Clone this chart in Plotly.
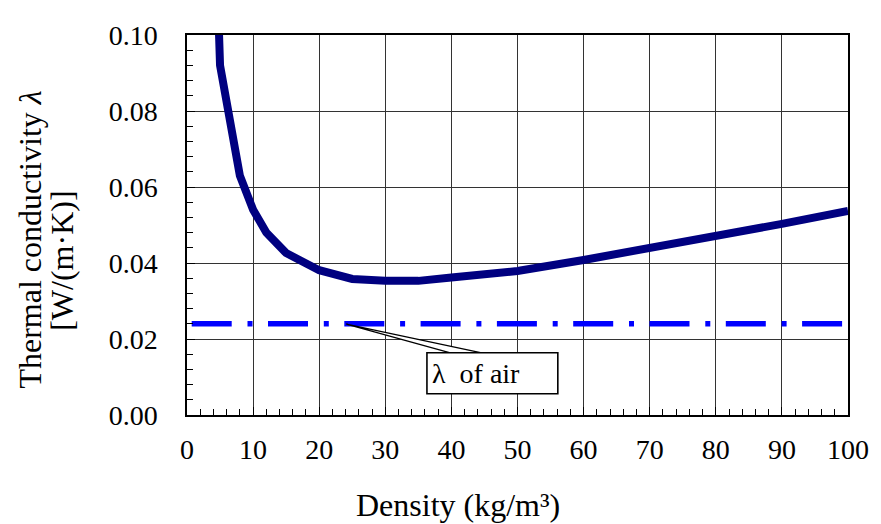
import plotly.graph_objects as go

# ---- data ----
density = [4, 5, 8, 10, 12, 15, 20, 25, 30, 35, 40, 50, 60, 70, 80, 90, 100]
conductivity = [0.145, 0.092, 0.063, 0.054, 0.048, 0.0426, 0.0381, 0.0358, 0.0353,
                0.0353, 0.0362, 0.0379, 0.0408, 0.0438, 0.0468, 0.0503, 0.0537]
air_density = [0, 100]
air_conductivity = [0.024, 0.024]

x_title = "Density (kg/m³)"
y_title_1 = "Thermal conductivity <i>λ</i>"
y_title_2 = "[W/(m·K)]"
callout_text = "λ  of air"

# callout geometry (data units)
callout_tip = (24.1, 0.0239)
callout_base = (39.7, 44.4, 0.0164)
callout_box = (36.3, 56.1, 0.0056, 0.0164)

FONT = "Liberation Serif, Times New Roman, Times, DejaVu Serif, serif"

# page body has an 8px margin -> figure is offset by 8px
OFF = 8
W, H = 881 - OFF, 524 - OFF
L, R, T, B = 187 - OFF, 27, 26 - OFF, 109
PW = W - L - R
PH = H - T - B

fig = go.Figure()
fig.add_trace(go.Scatter(
    x=air_density, y=air_conductivity, mode="lines",
    line=dict(color="#0000ff", width=5.5, dash="0px,4.7px,40px,15.8px,5px,10.8px"),
    showlegend=False, hoverinfo="skip"))
fig.add_trace(go.Scatter(
    x=density, y=conductivity, mode="lines",
    line=dict(color="#000080", width=8),
    showlegend=False))

bx0, bx1, by0, by1 = callout_box
tx, ty = callout_tip
b1, b2, by = callout_base
fig.add_shape(type="path", xref="x", yref="y",
              path=f"M {b1},{by} L {tx},{ty} L {b2},{by} Z",
              fillcolor="white", line=dict(color="black", width=1.3), layer="above")
fig.add_shape(type="rect", xref="x", yref="y", x0=bx0, x1=bx1, y0=by0, y1=by1,
              fillcolor="white", line=dict(color="black", width=1.6), layer="above")
fig.add_annotation(x=bx0 + 0.4, y=(by0 + by1) / 2, xref="x", yref="y",
                   text=callout_text, showarrow=False, xanchor="left", yanchor="middle",
                   font=dict(family=FONT, size=28, color="black"))


def px_x(p):
    return (p - 187) / PW


def px_y(p):
    return (415 - p) / PH


# axis titles as annotations (page pixel centres)
fig.add_annotation(x=px_x(29), y=px_y(235), xref="paper", yref="paper", text=y_title_1,
                   textangle=-90, showarrow=False, xanchor="center", yanchor="middle",
                   font=dict(family=FONT, size=32, color="black"))
fig.add_annotation(x=px_x(61), y=px_y(257), xref="paper", yref="paper", text=y_title_2,
                   textangle=-90, showarrow=False, xanchor="center", yanchor="middle",
                   font=dict(family=FONT, size=32, color="black"))
fig.add_annotation(x=px_x(460), y=px_y(507), xref="paper", yref="paper",
                   text=x_title, showarrow=False, xanchor="center", yanchor="middle",
                   font=dict(family=FONT, size=32, color="black"))

axis_common = dict(
    showline=True, linecolor="black", linewidth=1.5, mirror=True,
    showgrid=True, gridcolor="#333333", gridwidth=1,
    ticks="inside", ticklen=8, tickcolor="black", tickwidth=1,
    tickfont=dict(family=FONT, size=28, color="black"),
    zeroline=False,
)
fig.update_xaxes(range=[0, 100], tick0=0, dtick=10,
                 minor=dict(dtick=2, ticks="inside", ticklen=6, tickcolor="black", showgrid=False),
                 ticklabelstandoff=9, **axis_common)
fig.update_yaxes(range=[0, 0.1], tick0=0, dtick=0.02, tickformat=".2f",
                 minor=dict(dtick=0.004, ticks="inside", ticklen=6, tickcolor="black", showgrid=False),
                 ticklabelstandoff=22, **axis_common)

fig.update_layout(
    width=W, height=H,
    margin=dict(l=L, r=R, t=T, b=B, pad=0),
    paper_bgcolor="white", plot_bgcolor="white",
    font=dict(family=FONT, color="black"),
    showlegend=False,
)
fig.write_html("out.html")
